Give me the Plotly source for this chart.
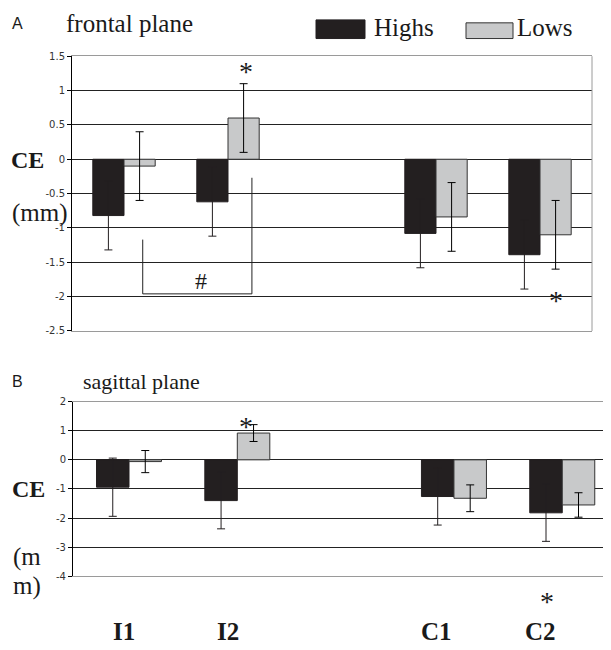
import plotly.graph_objects as go

# ---------------- data ----------------
categories = ["I1", "I2", " ", "C1", "C2"]
tick_labels = ["I1", "I2", "C1", "C2"]
label_positions = ["I1", "I2", "C1", "C2"]

highs_frontal = [-0.82, -0.62, None, -1.08, -1.39]
lows_frontal = [-0.10, 0.60, None, -0.84, -1.10]
err_highs_frontal = [0.50, 0.50, 0, 0.50, 0.50]
err_lows_frontal = [0.50, 0.50, 0, 0.50, 0.50]

highs_sagittal = [-0.94, -1.40, None, -1.26, -1.82]
lows_sagittal = [-0.06, 0.92, None, -1.32, -1.55]
err_highs_sagittal = [1.00, 0.97, 0, 0.98, 0.98]
err_lows_sagittal = [0.38, 0.29, 0, 0.46, 0.42]

ytick_vals_A = [1.5, 1, 0.5, 0, -0.5, -1, -1.5, -2, -2.5]
ytick_text_A = ["1.5", "1", "0.5", "0", "-0.5", "-1", "-1.5", "-2", "-2.5"]
ytick_vals_B = [2, 1, 0, -1, -2, -3, -4]
ytick_text_B = ["2", "1", "0", "-1", "-2", "-3", "-4"]

# ---------------- style ----------------
PAGE_W, PAGE_H = 611, 650
OFF = 8  # default body margin of the html page
W, H = PAGE_W - OFF, PAGE_H - OFF
HIGH_COL = "#231f20"
LOW_COL = "#c8c9ca"
SERIF = "Liberation Serif"
SANS = "DejaVu Sans"


def px_x(p):
    return (p - OFF) / W


def px_y(p):
    return 1 - (p - OFF) / H


def bar(x, y, err, color, line_col, err_col, xa, ya):
    return go.Bar(
        x=x, y=y, xaxis=xa, yaxis=ya,
        marker=dict(color=color, line=dict(color=line_col, width=1)),
        error_y=dict(type="data", array=err, symmetric=True, color=err_col,
                     thickness=1, width=4),
        showlegend=False,
    )


fig = go.Figure()
fig.add_trace(bar(categories, highs_frontal, err_highs_frontal, HIGH_COL, HIGH_COL, HIGH_COL, "x", "y"))
fig.add_trace(bar(categories, lows_frontal, err_lows_frontal, LOW_COL, "#333333", "black", "x", "y"))
fig.add_trace(bar(categories, highs_sagittal, err_highs_sagittal, HIGH_COL, HIGH_COL, HIGH_COL, "x2", "y2"))
fig.add_trace(bar(categories, lows_sagittal, err_lows_sagittal, LOW_COL, "#333333", "black", "x2", "y2"))

yaxis_common = dict(
    showgrid=True, gridcolor="#222222", gridwidth=1,
    zeroline=True, zerolinecolor="#222222", zerolinewidth=1,
    showline=True, linecolor="black", linewidth=1,
    ticks="outside", ticklen=4, tickcolor="black", tickwidth=1,
    tickfont=dict(family=SANS, size=10, color="#333333"),
    tickmode="array", fixedrange=True,
)
xaxis_common = dict(
    showgrid=False, zeroline=False, showticklabels=False, ticks="",
    showline=True, linecolor="#9a9a9a", linewidth=1, mirror=True,
    type="category", fixedrange=True,
)

fig.update_layout(
    width=W, height=H,
    margin=dict(l=0, r=0, t=0, b=0),
    paper_bgcolor="white", plot_bgcolor="white",
    barmode="group", bargap=0.4, bargroupgap=0,
    xaxis=dict(domain=[px_x(72), px_x(592)], anchor="y", range=[-0.5, 4.5], **xaxis_common),
    yaxis=dict(domain=[px_y(331), px_y(51)], anchor="x", range=[-2.5, 1.5],
               tickvals=ytick_vals_A, ticktext=ytick_text_A, **yaxis_common),
    xaxis2=dict(domain=[px_x(73), 1], anchor="y2", range=[-0.517, 4.45], **xaxis_common),
    yaxis2=dict(domain=[px_y(581), px_y(403)], anchor="x2", range=[-4, 2],
                tickvals=ytick_vals_B, ticktext=ytick_text_B, **yaxis_common),
    showlegend=False,
)

shapes = []
# right border of panel A
shapes.append(dict(type="line", xref="x domain", yref="y domain", x0=1, x1=1, y0=0, y1=1,
                   line=dict(color="#9a9a9a", width=1)))
# bracket (#) between I1 lows and I2 lows
br = dict(xref="x", yref="y", line=dict(color="#222222", width=1))
shapes.append(dict(type="line", x0=0.18, x1=0.18, y0=-1.17, y1=-1.96, **br))
shapes.append(dict(type="line", x0=0.18, x1=1.23, y0=-1.96, y1=-1.96, **br))
shapes.append(dict(type="line", x0=1.23, x1=1.23, y0=-1.96, y1=-0.27, **br))
# legend swatches
shapes.append(dict(type="rect", xref="paper", yref="paper",
                   x0=px_x(316), x1=px_x(365), y0=px_y(33), y1=px_y(14),
                   fillcolor=HIGH_COL, line=dict(color=HIGH_COL, width=1)))
shapes.append(dict(type="rect", xref="paper", yref="paper",
                   x0=px_x(466), x1=px_x(513), y0=px_y(33), y1=px_y(17),
                   fillcolor=LOW_COL, line=dict(color="#333333", width=1)))
fig.update_layout(shapes=shapes)

ann = []


def txt(text, x, y, size, family=SERIF, xref="paper", yref="paper", xanchor="center",
        yanchor="middle", color="#1a1a1a"):
    ann.append(dict(text=text, x=x, y=y, xref=xref, yref=yref, xanchor=xanchor,
                    yanchor=yanchor, showarrow=False,
                    font=dict(family=family, size=size, color=color)))


# panel A texts
txt("A", px_x(10), px_y(18), 16, family="Liberation Sans", xanchor="left")
txt("frontal plane", px_x(64), px_y(18), 25, xanchor="left")
txt("Highs", px_x(372), px_y(22), 25, xanchor="left")
txt("Lows", px_x(515), px_y(22), 25, xanchor="left")
txt("<b>CE</b>", px_x(9), px_y(157), 24, xanchor="left")
txt("(mm)", px_x(10), px_y(211), 25, xanchor="left")
txt("*", 1.17, 1.27, 28, xref="x", yref="y")
txt("#", 0.74, -1.77, 24, xref="x", yref="y")
txt("*", 4.15, -2.05, 28, xref="x", yref="y")

# panel B texts
txt("B", px_x(10), px_y(382), 16, family="Liberation Sans", xanchor="left")
txt("sagittal plane", px_x(81), px_y(383), 22, xanchor="left")
txt("<b>CE</b>", px_x(10), px_y(492), 24, xanchor="left")
txt("(m", px_x(11), px_y(561), 25, xanchor="left")
txt("m)", px_x(11), px_y(591), 25, xanchor="left")
txt("*", 1.08, 1.15, 28, xref="x2", yref="y2")
txt("*", 3.86, px_y(607), 28, xref="x2", yref="paper")

# category labels under the chart
for lab, pos in zip(tick_labels, label_positions):
    txt("<b>%s</b>" % lab, pos, px_y(637), 25, xref="x", yref="paper")

fig.update_layout(annotations=ann)

fig.write_html("out.html")
